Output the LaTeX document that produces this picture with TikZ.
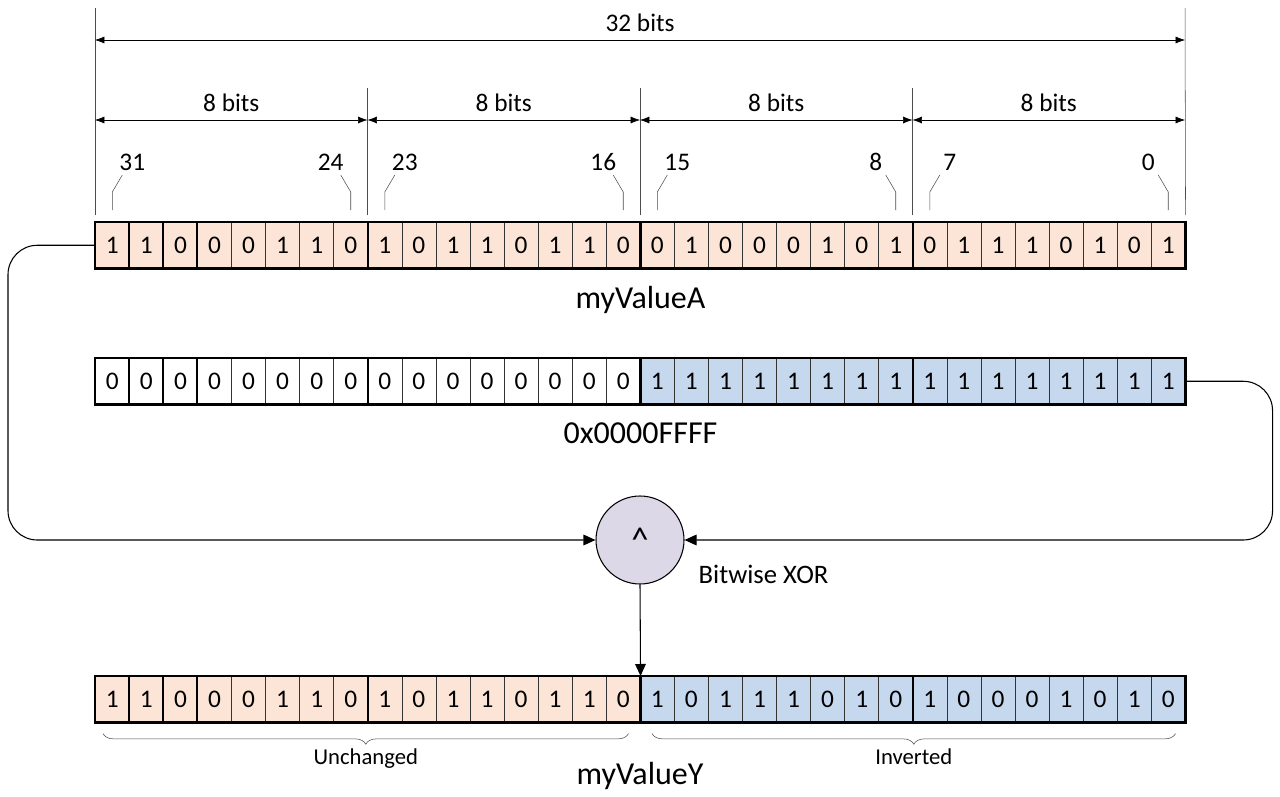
\documentclass[tikz,border=0pt]{standalone}
\usepackage{fontspec}
\setmainfont{Carlito}
\usetikzlibrary{positioning,calc,arrows.meta,decorations.pathreplacing}
\definecolor{bitorange}{RGB}{252,229,214}
\definecolor{bitblue}{RGB}{198,216,238}
\definecolor{xorlilac}{RGB}{221,216,232}

\begin{document}
\begin{tikzpicture}[x=0.75pt, y=-0.75pt,
    cell/.style={draw=black!80, minimum width=25.55pt, minimum height=34.5pt, inner sep=0pt, anchor=north west, font=\fontsize{19}{19}\selectfont},
    byte/.style={draw, line width=1.8pt},
    dim/.style={{Latex[length=7pt]}-{Latex[length=7pt]}},
    ext/.style={draw=black!70, thin},
    lbl/.style={font=\fontsize{19}{19}\selectfont},
    title/.style={font=\fontsize{24}{24}\selectfont},
    link/.style={thick, -{Triangle[length=9pt,width=8pt]}, rounded corners=22pt}]
  \useasboundingbox (0,0) rectangle (1280,796);

  % bit rows
  \foreach \b [count=\i from 0] in {1,1,0,0,0,1,1,0, 1,0,1,1,0,1,1,0, 0,1,0,0,0,1,0,1, 0,1,1,1,0,1,0,1}
    \node[cell, fill=bitorange] (a\i) at (95+\i*34.0625,222) {\b};
  \foreach \b [count=\i from 0] in {0,0,0,0,0,0,0,0, 0,0,0,0,0,0,0,0}
    \node[cell, fill=white] (m\i) at (95+\i*34.0625,358) {\b};
  \foreach \b [count=\i from 16] in {1,1,1,1,1,1,1,1, 1,1,1,1,1,1,1,1}
    \node[cell, fill=bitblue] (m\i) at (95+\i*34.0625,358) {\b};
  \foreach \b [count=\i from 0] in {1,1,0,0,0,1,1,0, 1,0,1,1,0,1,1,0}
    \node[cell, fill=bitorange] (y\i) at (95+\i*34.0625,676) {\b};
  \foreach \b [count=\i from 16] in {1,0,1,1,1,0,1,0, 1,0,0,0,1,0,1,0}
    \node[cell, fill=bitblue] (y\i) at (95+\i*34.0625,676) {\b};
  \foreach \r in {a,m,y}
    \foreach \k [evaluate=\k as \s using int(8*\k), evaluate=\k as \e using int(8*\k+7)] in {0,1,2,3}
      \draw[byte] (\r\s.north west) rectangle (\r\e.south east);

  \node[title, below=10pt of a15.south east] (nameA) {myValueA};
  \node[title, below=10pt of m15.south east] (nameM) {0x0000FFFF};
  \node[title] (nameY) at (640,776) {myValueY};

  % dimensions
  \draw[ext] (a0.north west) ++(0,-7) -- (95,8);
  \draw[ext] (a31.north east) ++(0,-7) -- (1185,8);
  \foreach \i in {8,16,24}
    \draw[ext] (a\i.north west) ++(0,-7) -- ++(0,-127);
  \draw[dim] (95,40) -- node[lbl, above=3pt] (all) {32 bits} (1185,40);
  \foreach \x [count=\k] in {95,367.5,640,912.5}
    \draw[dim] (\x,120) -- node[lbl, above=3pt] (by\k) {8 bits} (\x+272.5,120);

  % bit numbers
  \foreach \i/\n/\d in {0/31/1, 7/24/-1, 8/23/1, 15/16/-1, 16/15/1, 23/8/-1, 24/7/1, 31/0/-1} {
    \coordinate (p\i) at ($(a\i.north)+(0,-12)$);
    \draw[ext] (p\i) -- ++(0,-18) -- ++(\d*10,-17) coordinate (q\i);
    \node[lbl, anchor=south] (n\i) at ($(q\i)+(\d*10,0)$) {\n};
  }

  % xor
  \node[draw, thick, circle, fill=xorlilac, minimum size=66pt, font=\fontsize{26}{26}\selectfont] (xor) at (640,540) {\textasciicircum};
  \node[title, font=\fontsize{20}{20}\selectfont, anchor=north west] (xlbl) at (694,560) {Bitwise XOR};
  \draw[link] (a0.west) -- ++(-87,0) |- (xor.west);
  \draw[link] (m31.east) -- ++(87,0) |- (xor.east);
  \draw[thick, -{Triangle[length=9pt,width=8pt]}] (xor.south) -- (y15.north east);

  % braces
  \draw[ext, decorate, decoration={brace, mirror, amplitude=8pt}] ($(y0.south west)+(8,11)$) -- node[lbl, below=8pt, font=\fontsize{17}{17}\selectfont] (unch) {Unchanged} ($(y15.south east)+(-12,11)$);
  \draw[ext, decorate, decoration={brace, mirror, amplitude=8pt}] ($(y16.south west)+(12,11)$) -- node[lbl, below=8pt, font=\fontsize{17}{17}\selectfont] (inv) {Inverted} ($(y31.south east)+(-10,11)$);
\end{tikzpicture}
\end{document}
